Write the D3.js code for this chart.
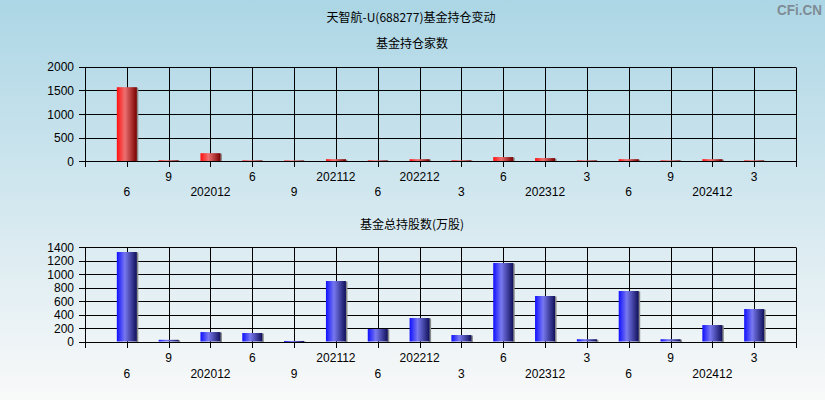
<!DOCTYPE html>
<html>
<head>
<meta charset="utf-8">
<script src="https://cdn.jsdelivr.net/npm/d3@7"></script>
<style>
html,body{margin:0;padding:0;}
body{width:825px;height:400px;overflow:hidden;}
text{font-family:"Liberation Sans",Arial,"Noto Sans CJK SC",sans-serif;}
.cn{font-family:"Noto Sans CJK SC","Liberation Sans",sans-serif;}
</style>
</head>
<body>
<svg id="chart" width="825" height="400"></svg>
<script>
// ---- data ----
const title = "天智航-U(688277)基金持仓变动";
const subtitle1 = "基金持仓家数";
const subtitle2 = "基金总持股数(万股)";
const periods = ["6","9","202012","6","9","202112","6","202212","3","6","202312","3","6","9","202412","3"];
const fundCounts = [1567, 22, 172, 20, 18, 45, 20, 45, 22, 90, 68, 20, 45, 20, 45, 20];
const fundShares = [1326, 25, 140, 126, 8, 896, 185, 348, 96, 1163, 674, 34, 748, 34, 244, 481];
const countTicks = [0, 500, 1000, 1500, 2000];
const shareTicks = [0, 200, 400, 600, 800, 1000, 1200, 1400];

const svg = d3.select("#chart");
const W = 825, H = 400;

// background gradient
const defs = svg.append("defs");
const bg = defs.append("linearGradient").attr("id","bg").attr("x1",0).attr("y1",0).attr("x2",0).attr("y2",1);
bg.append("stop").attr("offset","0%").attr("stop-color","#acd6e5");
bg.append("stop").attr("offset","100%").attr("stop-color","#f9f9f9");
svg.append("rect").attr("width",W).attr("height",H).attr("fill","url(#bg)");

function barGrad(id, c1, c2, c3){
  const g = defs.append("linearGradient").attr("id",id).attr("x1",0).attr("y1",0).attr("x2",1).attr("y2",0);
  g.append("stop").attr("offset","0%").attr("stop-color",c1);
  g.append("stop").attr("offset","40%").attr("stop-color",c2);
  g.append("stop").attr("offset","100%").attr("stop-color",c3);
}
barGrad("redg", "#ff1010", "#ee7070", "#780000");
barGrad("blueg", "#1010ff", "#7878f0", "#10105a");

// titles
svg.append("text").attr("class","cn").attr("x",411).attr("y",22).attr("text-anchor","middle")
  .attr("font-size",12).attr("fill","#000").text(title);
svg.append("text").attr("class","cn").attr("x",412).attr("y",48).attr("text-anchor","middle")
  .attr("font-size",12).attr("fill","#000").text(subtitle1);
svg.append("text").attr("class","cn").attr("x",412).attr("y",229).attr("text-anchor","middle")
  .attr("font-size",12).attr("fill","#000").text(subtitle2);
svg.append("text").attr("transform","translate(777,15) scale(0.9,1)").attr("font-size",15).attr("font-weight","bold")
  .attr("fill","#7f8c95").text("CFi.CN");

const x = d3.scaleLinear().domain([0, periods.length + 1]).range([85, 796]);
const xIdx = d3.range(0, periods.length + 2);

function panel(values, ticks, yTop, yBot, grad, rowUp, rowLow){
  const y = d3.scaleLinear().domain([0, d3.max(ticks)]).range([yBot, yTop]);
  const g = svg.append("g");
  // horizontal grid
  g.selectAll(".hg").data(ticks).enter().append("line")
    .attr("x1", x(0) - 6).attr("x2", x(periods.length + 1))
    .attr("y1", d => Math.round(y(d)) + 0.5).attr("y2", d => Math.round(y(d)) + 0.5)
    .attr("stroke","#000").attr("stroke-width",1);
  // vertical grid
  g.selectAll(".vg").data(xIdx).enter().append("line")
    .attr("x1", d => Math.round(x(d)) + 0.5).attr("x2", d => Math.round(x(d)) + 0.5)
    .attr("y1", Math.round(y(d3.max(ticks))) + 0.5).attr("y2", Math.round(y(0)) + 6)
    .attr("stroke","#000").attr("stroke-width",1);
  // y labels
  g.selectAll(".yl").data(ticks).enter().append("text")
    .attr("x", 74).attr("y", d => y(d) + 4.5).attr("text-anchor","end")
    .attr("font-size",12).attr("fill","#000").text(d => d);
  // bars
  const bw = 20;
  g.selectAll(".sh").data(values).enter().append("rect")
    .attr("x", (d,i) => x(i+1) - bw/2 + bw - 0.5).attr("width", 2)
    .attr("y", d => y(d) + 0.5).attr("height", d => Math.max(1, y(0) - y(d)))
    .attr("fill","#8a8a8a");
  g.selectAll(".bar").data(values).enter().append("rect")
    .attr("x", (d,i) => x(i+1) - bw/2).attr("width", bw)
    .attr("y", d => y(d)).attr("height", d => Math.max(1, y(0) - y(d)))
    .attr("fill", `url(#${grad})`);
  // redraw zero axis line on top
  g.append("line").attr("x1", x(0)).attr("x2", x(periods.length + 1))
    .attr("y1", Math.round(y(0)) + 0.5).attr("y2", Math.round(y(0)) + 0.5)
    .attr("stroke","#000");
  // x labels
  g.selectAll(".xl").data(periods).enter().append("text")
    .attr("x", (d,i) => x(i+1)).attr("y", (d,i) => i % 2 === 0 ? rowLow : rowUp)
    .attr("text-anchor","middle").attr("font-size",12).attr("fill","#000").text(d => d);
}

panel(fundCounts, countTicks, 66.7, 161.3, "redg", 180.5, 196);
panel(fundShares, shareTicks, 247, 341.5, "blueg", 361.5, 377.5);
</script>
</body>
</html>
